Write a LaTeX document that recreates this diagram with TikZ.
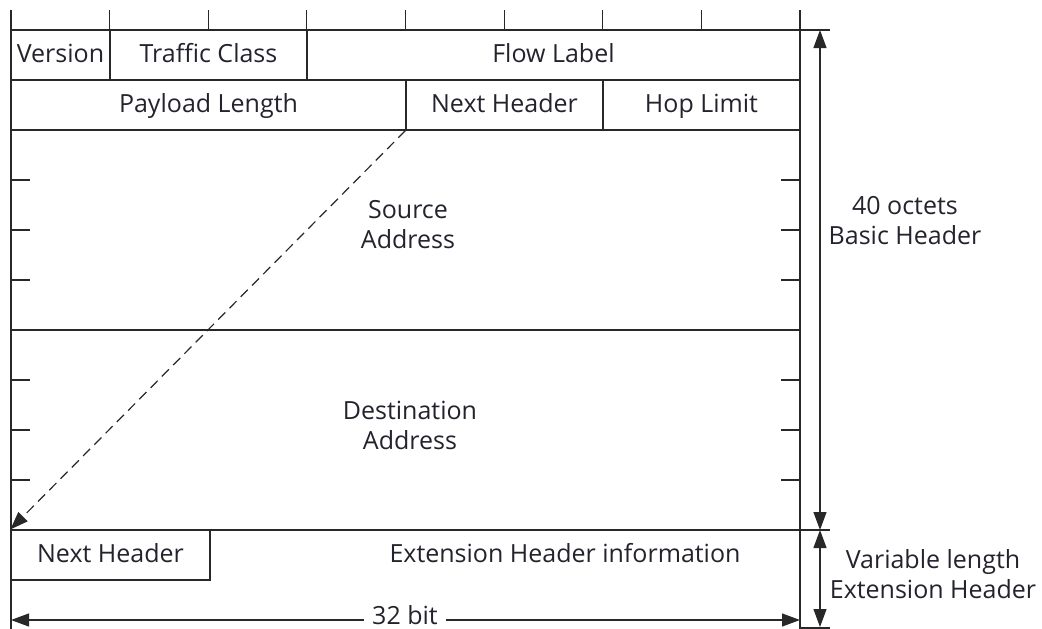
\documentclass[tikz,border=0pt]{standalone}
\usepackage{fontspec}
\setmainfont{Open Sans}
\usetikzlibrary{arrows.meta}
\definecolor{txt}{RGB}{35,35,45}
\definecolor{ln}{RGB}{40,40,40}
\begin{document}
\begin{tikzpicture}[x=1pt,y=-1pt,
  every node/.style={font=\fontsize{25}{30}\selectfont, text=txt, inner sep=0pt, align=center},
  oneline/.style={text height=18pt, text depth=4pt},
  field/.style={oneline, draw=ln, line width=1.2pt, minimum height=50pt},
  bigfield/.style={draw=ln, line width=1.2pt, minimum width=789pt, minimum height=200pt},
  rule/.style={draw=ln, line width=1.2pt},
  tip/.style={-{Triangle[length=18pt,width=13pt]}},
  dtip/.style={{Triangle[length=18pt,width=13pt]}-{Triangle[length=18pt,width=13pt]}}
]
\useasboundingbox (0,0) rectangle (1042,629);
% row 1
\node[field, minimum width=99pt] (ver) at (60.5,55) {Version};
\node[field, minimum width=197pt] (tc) at (208.5,55) {Traffic Class};
\node[field, minimum width=493pt] (fl) at (553.5,55) {Flow Label};
% row 2
\node[field, minimum width=395pt] (pl) at (208.5,105) {Payload Length};
\node[field, minimum width=197pt] (nh) at (504.5,105) {Next Header};
\node[field, minimum width=197pt] (hl) at (701.5,105) {Hop Limit};
% addresses
\node[bigfield] (src) at (405.5,230) {};
\node (srct) at (408,225) {Source\\Address};
\node[bigfield] (dst) at (405.5,430) {};
\node (dstt) at (410,425) {Destination\\Address};
% extension header
\node[field, minimum width=199pt] (enh) at (110.5,555) {Next Header};
\node[oneline] (ext) at (565,555) {Extension Header information};
% borders
\coordinate (lt) at (11,10);
\coordinate (lb) at (11,629);
\coordinate (rt) at (800,10);
\coordinate (rb) at (800,629);
\draw[rule] (lt) -- (lb);
\draw[rule] (rt) -- (rb);
\coordinate (topr) at (830,30);
\coordinate (midr) at (830,530);
\coordinate (botr) at (830,628);
\draw[rule] (11,30) -- (topr);
\draw[rule] (11,530) -- (midr);
\draw[rule] (800,628) -- (botr);
% top ticks
\foreach \k in {1,...,7} {
  \draw[rule] (11+\k*98.625,10) -- (11+\k*98.625,30);
}
% side ticks
\foreach \y in {180,230,280,380,430,480} {
  \draw[rule] (11,\y) -- (30,\y);
  \draw[rule] (781,\y) -- (800,\y);
}
% right dimension arrows
\coordinate (a1) at (820,30);
\coordinate (a2) at (820,530);
\coordinate (a3) at (820,627);
\draw[rule, dtip] (a1) -- (a2);
\draw[rule, dtip] (a2) -- (a3);
\node (basic) at (905,221) {40 octets\\Basic Header};
\node (var) at (933,574) {Variable length\\Extension Header};
% dashed pointer
\draw[rule, dash pattern=on 10pt off 6pt, tip] (nh.south west) -- (enh.north west);
% 32 bit
\node[fill=white, inner xsep=8pt, text height=18pt, text depth=0pt, anchor=base] (bits) at (405,624) {32 bit};
\coordinate (bl) at (11,620);
\coordinate (br) at (800,620);
\draw[rule, tip] (bits.west |- bl) -- (bl);
\draw[rule, tip] (bits.east |- br) -- (br);
\end{tikzpicture}
\end{document}
